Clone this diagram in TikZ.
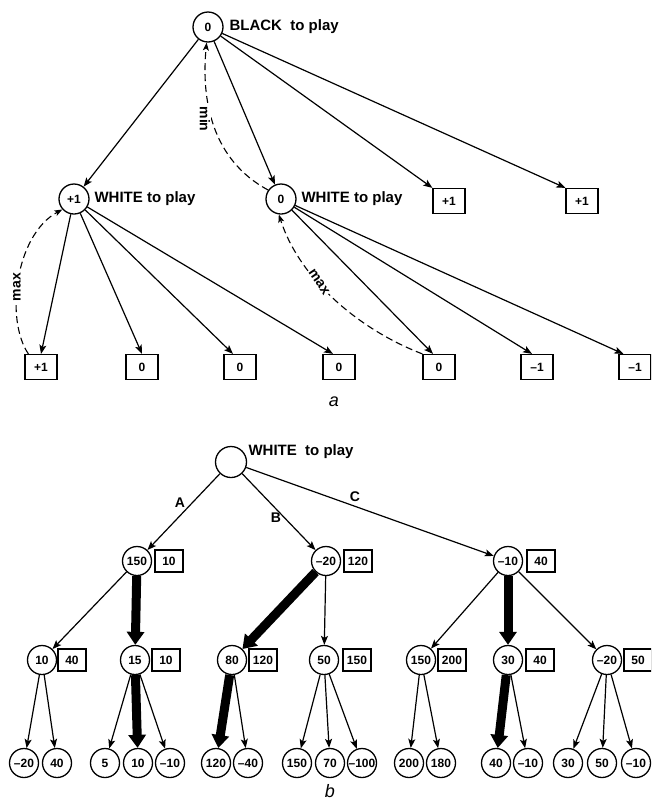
\documentclass[tikz,border=0pt]{standalone}
\usepackage{fontspec}
\setmainfont{Liberation Sans}
\usetikzlibrary{arrows.meta}

\begin{document}
\begin{tikzpicture}[x=1pt,y=1pt,
	posn/.style={circle,draw,line width=1.3pt,inner sep=0pt,minimum size=29pt,font=\bfseries\fontsize{12}{12}\selectfont},
	valbox/.style={draw,line width=1.2pt,inner sep=0pt,minimum width=32pt,minimum height=25pt,font=\bfseries\fontsize{12}{12}\selectfont},
	smallbox/.style={valbox,minimum width=28pt,minimum height=22pt},
	sidetext/.style={anchor=west,font=\bfseries\fontsize{15}{15}\selectfont},
	edgetext/.style={font=\bfseries\fontsize{14}{14}\selectfont},
	movearrow/.style={-{Stealth[length=9pt,width=7pt,inset=2pt]},line width=1.2pt},
	bestarrow/.style={-{Triangle[length=13pt,width=17pt]},line width=9pt},
	backarrow/.style={-{Stealth[length=8pt,width=6pt,inset=2pt]},line width=1.1pt,dash pattern=on 7pt off 4pt},
	curvetext/.style={edgetext,fill=white,inner sep=1pt},
	partlabel/.style={font=\rmfamily\itshape\fontsize{18}{18}\selectfont}]
	\clip (0,0) rectangle (651,-801);

	% part a
	\node[posn,minimum size=30pt] (rootA) at (208,-27) {0};
	\node[sidetext] at (226,-27) {BLACK\ \ to play};
	\node[posn,minimum size=30pt] (wplus) at (74,-199) {+1};
	\node[sidetext] at (91,-199) {WHITE to play};
	\node[posn,minimum size=30pt] (wzero) at (281,-199) {0};
	\node[sidetext] at (298,-199) {WHITE to play};
	\node[valbox] (tplusA) at (449,-201) {+1};
	\node[valbox] (tplusB) at (582,-201) {+1};
	\node[valbox] (lf1) at (41,-367) {+1};
	\node[valbox] (lf2) at (142,-367) {0};
	\node[valbox] (lf3) at (240,-367) {0};
	\node[valbox] (lf4) at (339,-367) {0};
	\node[valbox] (lf5) at (439,-367) {0};
	\node[valbox] (lf6) at (537,-367) {--1};
	\node[valbox] (lf7) at (635,-367) {--1};
	\node[partlabel] at (334,-402) {a};

	\draw[movearrow] (rootA) -- (wplus);
	\draw[movearrow] (rootA) -- (wzero);
	\draw[movearrow] (rootA) -- (tplusA.north west);
	\draw[movearrow] (rootA) -- (tplusB.north west);
	\draw[movearrow] (wplus) -- (lf1.north);
	\draw[movearrow] (wplus) -- (lf2.north);
	\draw[movearrow] (wplus) -- ([xshift=-7pt]lf3.north);
	\draw[movearrow] (wplus) -- ([xshift=-6pt]lf4.north);
	\draw[movearrow] (wzero) -- ([xshift=-6pt]lf5.north);
	\draw[movearrow] (wzero) -- ([xshift=-5pt]lf6.north);
	\draw[movearrow] (wzero) -- ([xshift=5pt]lf7.north west);

	% dashed backing-up arrows
	\draw[backarrow] (wzero.145) .. controls (212,-160) and (201,-100) .. (rootA.265);
	\node[curvetext,rotate=-90] at (205,-119) {min};
	\draw[backarrow] ([xshift=4pt]lf1.north west) .. controls (5,-320) and (15,-235) .. (wplus.222);
	\node[curvetext,rotate=90] at (17,-287) {max};
	\draw[backarrow] (lf5.north west) .. controls (360,-330) and (300,-280) .. (wzero.262);
	\node[curvetext,rotate=-56] at (319,-282) {max};

	% part b
	\node[posn,minimum size=31pt] (rootB) at (231,-462) {};
	\node[sidetext] at (245,-452) {WHITE\ \ to play};
	\node[posn] (sA) at (137,-561) {150};
	\node[smallbox] at (169,-561) {10};
	\node[posn] (sB) at (326,-561) {--20};
	\node[smallbox] at (358,-561) {120};
	\node[posn] (sC) at (508,-561) {--10};
	\node[smallbox] at (541,-561) {40};

	\draw[movearrow] (rootB) -- (sA);
	\draw[movearrow] (rootB) -- (sB);
	\draw[movearrow] (rootB) -- (sC);
	\node[edgetext] at (180,-503) {A};
	\node[edgetext] at (276,-518) {B};
	\node[edgetext] at (355,-497) {C};

	\node[posn] (m1) at (42,-660) {10};   \node[smallbox] at (72,-660) {40};
	\node[posn] (m2) at (135,-660) {15};  \node[smallbox] at (166,-660) {10};
	\node[posn] (m3) at (232,-660) {80};  \node[smallbox] at (263,-660) {120};
	\node[posn] (m4) at (324,-660) {50};  \node[smallbox] at (357,-660) {150};
	\node[posn] (m5) at (421,-660) {150}; \node[smallbox] at (452,-660) {200};
	\node[posn] (m6) at (508,-660) {30};  \node[smallbox] at (540,-660) {40};
	\node[posn] (m7) at (607,-660) {--20}; \node[smallbox] at (638,-660) {50};

	\draw[movearrow] (sA) -- (m1);
	\draw[bestarrow] (sA) -- (m2);
	\draw[bestarrow] (sB) -- (m3);
	\draw[movearrow] (sB) -- (m4);
	\draw[movearrow] (sC) -- (m5);
	\draw[bestarrow] (sC) -- (m6);
	\draw[movearrow] (sC) -- (m7);

	\node[posn] (q1) at (24,-763) {--20};
	\node[posn] (q2) at (57,-763) {40};
	\node[posn] (q3) at (105,-763) {5};
	\node[posn] (q4) at (138,-763) {10};
	\node[posn] (q5) at (170,-763) {--10};
	\node[posn] (q6) at (216,-763) {120};
	\node[posn] (q7) at (248,-763) {--40};
	\node[posn] (q8) at (297,-763) {150};
	\node[posn] (q9) at (330,-763) {70};
	\node[posn] (q10) at (362,-763) {--100};
	\node[posn] (q11) at (409,-763) {200};
	\node[posn] (q12) at (441,-763) {180};
	\node[posn] (q13) at (496,-763) {40};
	\node[posn] (q14) at (528,-763) {--10};
	\node[posn] (q15) at (568,-763) {30};
	\node[posn] (q16) at (602,-763) {50};
	\node[posn] (q17) at (636,-763) {--10};

	\draw[movearrow] (m1) -- (q1);
	\draw[movearrow] (m1) -- (q2);
	\draw[movearrow] (m2) -- (q3);
	\draw[bestarrow] (m2) -- (q4);
	\draw[movearrow] (m2) -- (q5);
	\draw[bestarrow] (m3) -- (q6);
	\draw[movearrow] (m3) -- (q7);
	\draw[movearrow] (m4) -- (q8);
	\draw[movearrow] (m4) -- (q9);
	\draw[movearrow] (m4) -- (q10);
	\draw[movearrow] (m5) -- (q11);
	\draw[movearrow] (m5) -- (q12);
	\draw[bestarrow] (m6) -- (q13);
	\draw[movearrow] (m6) -- (q14);
	\draw[movearrow] (m7) -- (q15);
	\draw[movearrow] (m7) -- (q16);
	\draw[movearrow] (m7) -- (q17);
	\node[partlabel] at (330,-791) {b};
\end{tikzpicture}
\end{document}
